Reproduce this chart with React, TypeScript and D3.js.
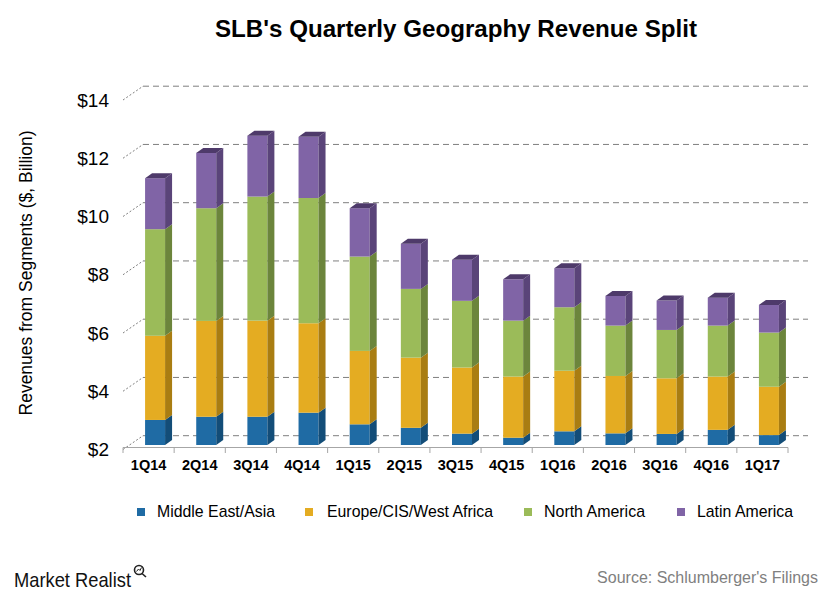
import React from "react";
import * as d3 from "d3";

const categories = ["1Q14","2Q14","3Q14","4Q14","1Q15","2Q15","3Q15","4Q15","1Q16","2Q16","3Q16","4Q16","1Q17"];
const middleEastAsia = [2.86, 2.97, 2.97, 3.11, 2.71, 2.59, 2.39, 2.25, 2.47, 2.40, 2.38, 2.52, 2.34];
const europeCisWestAfrica = [2.89, 3.29, 3.30, 3.07, 2.52, 2.41, 2.27, 2.10, 2.08, 1.97, 1.91, 1.83, 1.66];
const northAmerica = [3.66, 3.87, 4.26, 4.30, 3.24, 2.36, 2.29, 1.92, 2.18, 1.73, 1.66, 1.75, 1.86];
const latinAmerica = [1.75, 1.90, 2.09, 2.10, 1.66, 1.55, 1.41, 1.42, 1.34, 1.02, 1.01, 0.96, 0.95];
const seriesNames = ["Middle East/Asia", "Europe/CIS/West Africa", "North America", "Latin America"];
const yTicks = [2, 4, 6, 8, 10, 12, 14];

const FRONT = ["#1f6ba4", "#e4ac22", "#9bbb59", "#8064a6"];
const SIDE = ["#134d78", "#a97d12", "#6c853c", "#5a4479"];
const TOPC = "#4e3a6a";

const FONT = "'Liberation Sans', Arial, sans-serif";
const NARROW = "'Liberation Sans Narrow', 'Arial Narrow', 'Liberation Sans', Arial, sans-serif";

export default function App() {
  const x = d3.scaleBand<string>().domain(categories).range([123, 788]).padding(0);
  const yFront = d3.scaleLinear().domain([2, 14]).range([449.5, 100]);
  const yBar = d3.scaleLinear().domain([2, 14]).range([445, 95.5]);
  const wallDx = 20, wallDy = -13.8;
  const barW = 20, depthX = 7, depthY = -5, barShift = 6.5;

  const rows = categories.map((c, i) => ({
    cat: c,
    s0: middleEastAsia[i], s1: europeCisWestAfrica[i], s2: northAmerica[i], s3: latinAmerica[i],
  }));
  const stack = d3.stack<any>().keys(["s0", "s1", "s2", "s3"])(rows);

  const bw = x.bandwidth();

  const bars: React.ReactNode[] = [];
  categories.forEach((c, i) => {
    const x0 = (x(c) as number) + bw / 2 - barW / 2 + barShift;
    stack.forEach((layer, k) => {
      const lo = Math.max(layer[i][0], 2);
      const hi = layer[i][1];
      if (hi <= 2) return;
      const yt = yBar(hi), yb = yBar(lo);
      bars.push(
        <g key={`${c}-${k}`}>
          <rect x={x0} y={yt} width={barW} height={yb - yt} fill={FRONT[k]} />
          <polygon
            points={`${x0 + barW},${yt} ${x0 + barW + depthX},${yt + depthY} ${x0 + barW + depthX},${yb + depthY} ${x0 + barW},${yb}`}
            fill={SIDE[k]}
          />
          {k === 3 && (
            <polygon
              points={`${x0},${yt} ${x0 + depthX},${yt + depthY} ${x0 + barW + depthX},${yt + depthY} ${x0 + barW},${yt}`}
              fill={TOPC}
            />
          )}
        </g>
      );
    });
  });

  const legendSq = [137, 305, 524, 677];
  const legendTextX = [157, 327, 544, 697];
  const legendW = [118, 166, 101, 96];

  return (
    <svg width={840} height={600} style={{ position: "absolute", left: 0, top: 0, background: "#fff" }}>
      <rect x={0} y={0} width={840} height={600} fill="#fff" />
      <text x={215} y={37} textLength={482} lengthAdjust="spacingAndGlyphs" fontFamily={FONT} fontWeight="bold" fontSize={23} fill="#000">
        SLB's Quarterly Geography Revenue Split
      </text>

      {/* gridlines */}
      {yTicks.map((v) => (
        <g key={`g${v}`} stroke="#7f7f7f" strokeWidth={1} strokeDasharray="6,4" fill="none">
          <line x1={123} y1={yFront(v)} x2={123 + wallDx} y2={yFront(v) + wallDy} strokeDasharray="2,2" />
          <line x1={123 + wallDx} y1={yFront(v) + wallDy} x2={808} y2={yFront(v) + wallDy} />
        </g>
      ))}

      {/* x axis */}
      <line x1={123} y1={447.5} x2={788} y2={447.5} stroke="#a6a6a6" strokeWidth={1.2} />
      {categories.concat(["end"]).map((c, i) => {
        const xx = 123 + i * bw;
        return <line key={`t${i}`} x1={xx} y1={447.5} x2={xx} y2={453} stroke="#a6a6a6" strokeWidth={1} />;
      })}

      {bars}

      {/* y labels */}
      {yTicks.map((v) => (
        <text key={`yl${v}`} x={109} y={yFront(v) + 6.5} textAnchor="end" fontFamily={FONT} fontSize={19} fill="#000">
          {`$${v}`}
        </text>
      ))}

      {/* x labels */}
      {categories.map((c) => (
        <text key={`xl${c}`} x={(x(c) as number) + bw / 2} y={470} textAnchor="middle" fontFamily={FONT} fontWeight="bold" fontSize={14.5} fill="#000">
          {c}
        </text>
      ))}

      <text transform="translate(32,273) rotate(-90)" textAnchor="middle" fontFamily={FONT} fontSize={17.5} fill="#000">
        Revenues from Segments ($, Billion)
      </text>

      {/* legend */}
      {seriesNames.map((n, k) => (
        <g key={`lg${k}`}>
          <rect x={legendSq[k]} y={508} width={8} height={8} fill={FRONT[k]} />
          <text x={legendTextX[k]} y={517} textLength={legendW[k]} lengthAdjust="spacingAndGlyphs" fontFamily={FONT} fontSize={17} fill="#000">{n}</text>
        </g>
      ))}

      {/* footer */}
      <text x={14} y={587} textLength={117} lengthAdjust="spacingAndGlyphs" fontFamily={NARROW} fontSize={21} fill="#111">Market Realist</text>
      <g stroke="#222" strokeWidth={1.6} fill="none">
        <circle cx={139} cy={570} r={4.5} />
        <line x1={142} y1={573.5} x2={146} y2={577} />
        <polyline points="136.5,571.5 138.5,569 140,570.5 141.5,567.5" strokeWidth={1} />
      </g>
      <text x={818} y={583} textAnchor="end" fontFamily={FONT} fontSize={16} fill="#808080">
        Source: Schlumberger's Filings
      </text>
    </svg>
  );
}
